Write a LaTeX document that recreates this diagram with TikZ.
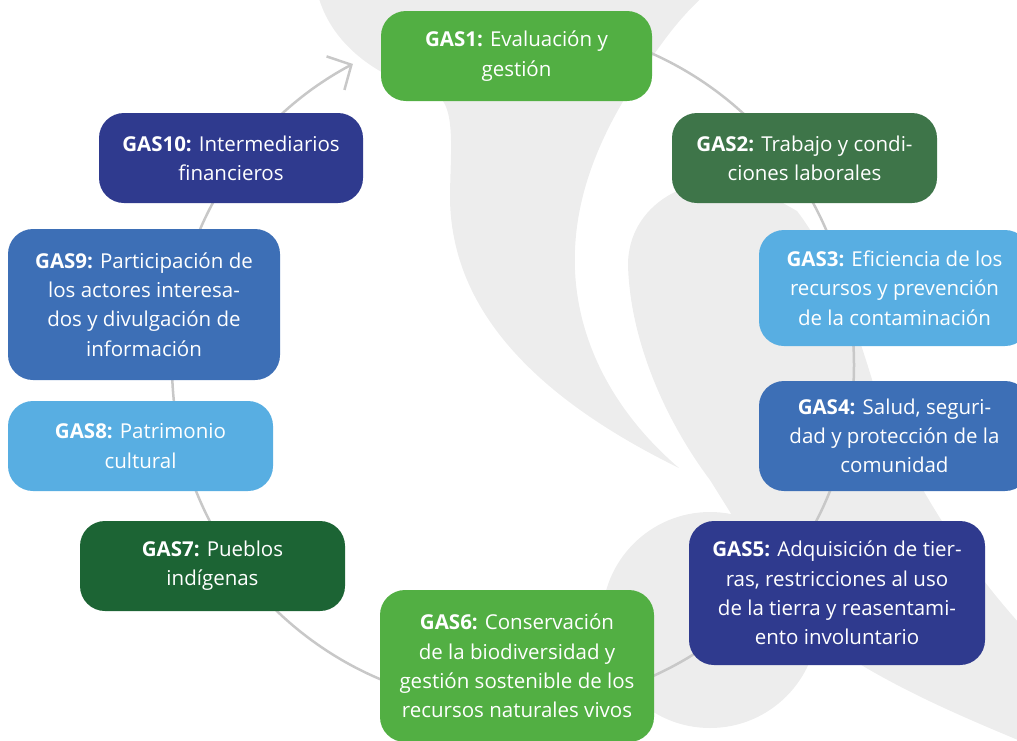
\documentclass[tikz,border=0pt]{standalone}
\usepackage{fontspec}
\setmainfont{Open Sans}
\usepackage{xcolor}
\usepackage{tikz}
\usetikzlibrary{arrows.meta, calc}
\definecolor{gasgreen}{HTML}{52AF43}
\definecolor{gasmidgreen}{HTML}{3E7549}
\definecolor{gasdarkgreen}{HTML}{1C6434}
\definecolor{gaslightblue}{HTML}{58AEE2}
\definecolor{gasblue}{HTML}{3D6FB6}
\definecolor{gasnavy}{HTML}{2F3A8E}
\definecolor{logogrey}{HTML}{EDEDED}
\definecolor{ringgrey}{HTML}{C8C8C8}
\tikzstyle{gas box}=[shape=rectangle, rounded corners=25pt, text=white, align=center, inner sep=0pt, font=\fontsize{20.5}{29.3}\selectfont]
\tikzstyle{green box}=[gas box, fill=gasgreen]
\tikzstyle{mid green box}=[gas box, fill=gasmidgreen]
\tikzstyle{dark green box}=[gas box, fill=gasdarkgreen]
\tikzstyle{light blue box}=[gas box, fill=gaslightblue]
\tikzstyle{blue box}=[gas box, fill=gasblue]
\tikzstyle{navy box}=[gas box, fill=gasnavy]
\tikzstyle{ring edge}=[-{Straight Barb[length=18pt, width=38pt]}, draw=ringgrey, line width=2.5pt]
\tikzstyle{logo}=[fill=logogrey, draw=none]
\pgfdeclarelayer{backlayer}
\pgfdeclarelayer{edgelayer}
\pgfdeclarelayer{nodelayer}
\pgfsetlayers{backlayer,edgelayer,nodelayer,main}

\begin{document}
\begin{tikzpicture}[x=1pt, y=-1pt]
	\useasboundingbox (0, 0) rectangle (1017, 740);
	\begin{pgfonlayer}{backlayer}
		% grey logo behind the ring
		\fill [style=logo] (318, -5) .. controls (330, 40) and (370, 75) .. (430, 92)
			.. controls (458, 98) and (450, 150) .. (450, 200)
			.. controls (452, 300) and (520, 390) .. (679, 468)
			.. controls (600, 400) and (572, 320) .. (575, 250)
			.. controls (578, 170) and (620, 100) .. (660, 46)
			.. controls (675, 25) and (690, 8) .. (705, -5) -- cycle;
		\fill [style=logo] (1030, 635) .. controls (960, 560) and (905, 470) .. (874, 386)
			.. controls (860, 340) and (835, 260) .. (797, 211) -- (760, 190)
			.. controls (700, 165) and (628, 200) .. (628, 265)
			.. controls (630, 340) and (665, 420) .. (710, 480) -- (760, 560) -- (853, 660)
			.. controls (910, 695) and (970, 720) .. (1030, 745) -- cycle;
		\fill [style=logo] (710, 620) circle [radius=108];
	\end{pgfonlayer}
	\begin{pgfonlayer}{nodelayer}
		\node [style=green box, minimum width=271, minimum height=90] (1) at (516.5, 56) {\textbf{GAS1:} Evaluación y\\gestión};
		\node [style=mid green box, minimum width=265, minimum height=90] (2) at (804.5, 158) {\textbf{GAS2:} Trabajo y condi-\\ciones laborales};
		\node [style=light blue box, minimum width=271, minimum height=116] (3) at (894.5, 288) {\textbf{GAS3:} Eficiencia de los\\recursos y prevención\\de la contaminación};
		\node [style=blue box, minimum width=271, minimum height=110] (4) at (894.5, 436) {\textbf{GAS4:} Salud, seguri-\\dad y protección de la\\comunidad};
		\node [style=navy box, minimum width=296, minimum height=144] (5) at (837, 593) {\textbf{GAS5:} Adquisición de tier-\\ras, restricciones al uso\\de la tierra y reasentami-\\ento involuntario};
		\node [style=green box, minimum width=274, minimum height=152] (6) at (517, 666) {\textbf{GAS6:} Conservación\\de la biodiversidad y\\gestión sostenible de los\\recursos naturales vivos};
		\node [style=dark green box, minimum width=265, minimum height=90] (7) at (212.5, 566) {\textbf{GAS7:} Pueblos\\indígenas};
		\node [style=light blue box, minimum width=265, minimum height=90] (8) at (140.5, 446) {\textbf{GAS8:} Patrimonio\\cultural};
		\node [style=blue box, minimum width=272, minimum height=151] (9) at (144, 304.5) {\textbf{GAS9:} Participación de\\los actores interesa-\\dos y divulgación de\\información};
		\node [style=navy box, minimum width=264, minimum height=90] (10) at (231, 158) {\textbf{GAS10:} Intermediarios\\financieros};
	\end{pgfonlayer}
	\begin{pgfonlayer}{edgelayer}
		\coordinate (hub) at (513, 365);
		\draw [style=ring edge] ($(hub)+(-90:341)$) arc [start angle=-90, end angle=242, radius=341];
	\end{pgfonlayer}
\end{tikzpicture}
\end{document}
